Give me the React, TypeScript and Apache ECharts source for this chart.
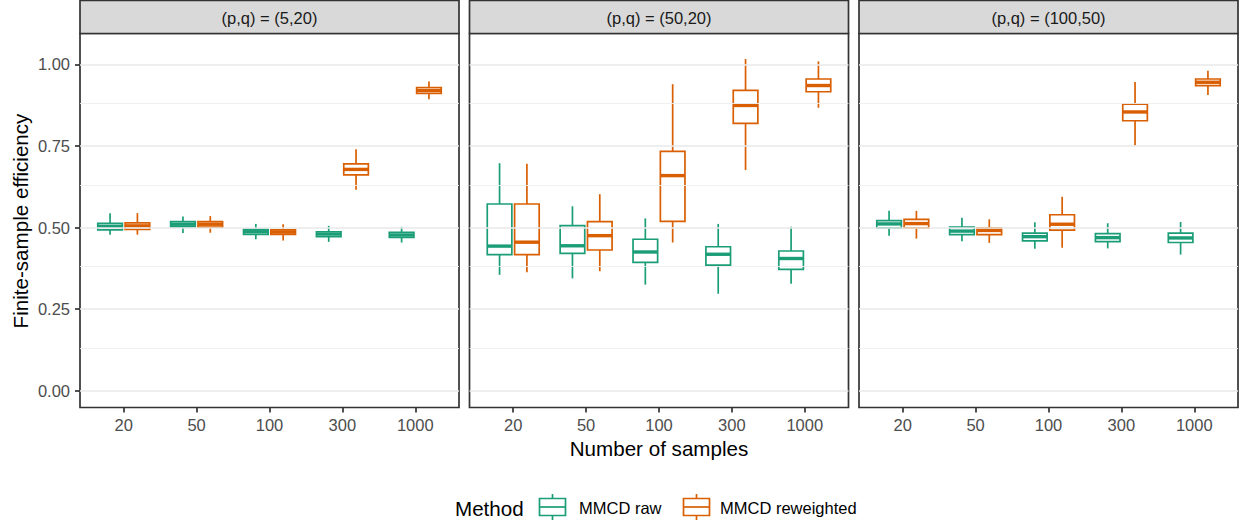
import React, { useEffect, useRef } from 'react';
import * as echarts from 'echarts';

const sampleSizes = ['20', '50', '100', '300', '1000'];
const panelTitles = ['(p,q) = (5,20)', '(p,q) = (50,20)', '(p,q) = (100,50)'];
const methods = ['MMCD raw', 'MMCD reweighted'];
const yTicks = [0, 0.25, 0.5, 0.75, 1];
const yMinorGrid = [0.125, 0.375, 0.625, 0.875];

// each entry: [lower whisker, Q1, median, Q3, upper whisker]
const p5q20Raw = [[0.478, 0.493, 0.504, 0.513, 0.544], [0.483, 0.502, 0.510, 0.518, 0.534], [0.464, 0.479, 0.487, 0.494, 0.511], [0.456, 0.472, 0.480, 0.487, 0.505], [0.454, 0.470, 0.477, 0.485, 0.502]];
const p5q20Rew = [[0.478, 0.494, 0.505, 0.514, 0.544], [0.484, 0.501, 0.510, 0.518, 0.535], [0.460, 0.479, 0.486, 0.493, 0.510], [0.616, 0.661, 0.678, 0.695, 0.740], [0.893, 0.911, 0.920, 0.929, 0.947]];
const p50q20Raw = [[0.355, 0.417, 0.443, 0.572, 0.697], [0.344, 0.421, 0.444, 0.506, 0.565], [0.325, 0.393, 0.425, 0.464, 0.528], [0.297, 0.385, 0.418, 0.441, 0.511], [0.328, 0.372, 0.405, 0.428, 0.502]];
const p50q20Rew = [[0.363, 0.417, 0.455, 0.572, 0.695], [0.366, 0.431, 0.475, 0.518, 0.602], [0.454, 0.519, 0.659, 0.733, 0.939], [0.676, 0.819, 0.874, 0.920, 1.016], [0.867, 0.916, 0.935, 0.955, 1.009]];
const p100q50Raw = [[0.475, 0.499, 0.511, 0.521, 0.551], [0.458, 0.478, 0.489, 0.501, 0.530], [0.435, 0.459, 0.472, 0.483, 0.516], [0.436, 0.457, 0.469, 0.481, 0.513], [0.417, 0.454, 0.468, 0.483, 0.517]];
const p100q50Rew = [[0.466, 0.499, 0.512, 0.525, 0.551], [0.453, 0.478, 0.491, 0.499, 0.525], [0.438, 0.492, 0.510, 0.539, 0.594], [0.751, 0.827, 0.854, 0.878, 0.946], [0.906, 0.935, 0.945, 0.955, 0.980]];

const panelData = [
  [p5q20Raw, p5q20Rew],
  [p50q20Raw, p50q20Rew],
  [p100q50Raw, p100q50Rew],
];

const COLORS = ['#1B9E77', '#D95F02'];
const FONT = '"Liberation Sans", Arial, Helvetica, sans-serif';
const PANEL_LEFT = [80, 469.5, 859];
const PANEL_WIDTH = 379;
const PANEL_TOP = 33.5;
const PANEL_HEIGHT = 374;
const Y_MIN = -0.0515;
const Y_MAX = 1.0944;
const DODGE = 0.1875;
const BOX_W = 0.3375;
const LW = 1.7;

function buildOption() {
  const grid: any[] = [];
  const xAxis: any[] = [];
  const yAxis: any[] = [];
  const series: any[] = [];
  const graphic: any[] = [];

  panelTitles.forEach((title, p) => {
    grid.push({
      left: PANEL_LEFT[p], top: PANEL_TOP, width: PANEL_WIDTH, height: PANEL_HEIGHT,
      show: true, borderColor: '#333333', borderWidth: LW, backgroundColor: '#FFFFFF',
    });
    xAxis.push({
      type: 'value', gridIndex: p, min: 0.4, max: 5.6, position: 'bottom',
      axisLine: { show: false, onZero: false },
      splitLine: { show: false },
      axisTick: { show: true, customValues: [1, 2, 3, 4, 5], length: 5, lineStyle: { color: '#333333', width: LW } },
      axisLabel: {
        show: true, customValues: [1, 2, 3, 4, 5], margin: 9,
        formatter: (v: number) => sampleSizes[Math.round(v) - 1] ?? '',
        color: '#4D4D4D', fontSize: 16.5, fontFamily: FONT,
      },
    });
    yAxis.push({
      type: 'value', gridIndex: p, min: Y_MIN, max: Y_MAX, position: 'left',
      axisLine: { show: false, onZero: false },
      splitLine: { show: false },
      axisTick: { show: p === 0, customValues: yTicks, length: 5, lineStyle: { color: '#333333', width: LW } },
      axisLabel: {
        show: p === 0, customValues: yTicks, margin: 10,
        formatter: (v: number) => v.toFixed(2),
        color: '#4D4D4D', fontSize: 16.5, fontFamily: FONT,
      },
    });
    // grid lines
    series.push({
      type: 'line', xAxisIndex: p, yAxisIndex: p, data: [], z: 1, silent: true,
      markLine: {
        silent: true, symbol: ['none', 'none'], animation: false,
        label: { show: false },
        emphasis: { disabled: true },
        data: [
          ...yMinorGrid.map((v) => ({ yAxis: v, lineStyle: { color: '#EEEEEE', width: 0.9, type: 'solid' } })),
          ...yTicks.map((v) => ({ yAxis: v, lineStyle: { color: '#E8E8E8', width: 1.7, type: 'solid' } })),
        ],
      },
    });
    panelData[p].forEach((rows, m) => {
      const off = m === 0 ? -DODGE : DODGE;
      const color = COLORS[m];
      series.push({
        type: 'custom', name: methods[m], xAxisIndex: p, yAxisIndex: p, z: 3,
        encode: { x: 0, y: [1, 2, 3, 4, 5] },
        data: rows.map((r, i) => [i + 1 + off, ...r]),
        renderItem: (params: any, api: any) => {
          const x = api.value(0);
          const lo = api.coord([x, api.value(1)]);
          const q1 = api.coord([x, api.value(2)]);
          const med = api.coord([x, api.value(3)]);
          const q3 = api.coord([x, api.value(4)]);
          const hi = api.coord([x, api.value(5)]);
          const hw = api.size([BOX_W, 0])[0] / 2;
          const cx = lo[0];
          return {
            type: 'group',
            children: [
              { type: 'line', shape: { x1: cx, y1: hi[1], x2: cx, y2: q3[1] }, style: { stroke: color, lineWidth: LW } },
              { type: 'line', shape: { x1: cx, y1: q1[1], x2: cx, y2: lo[1] }, style: { stroke: color, lineWidth: LW } },
              { type: 'rect', shape: { x: cx - hw, y: q3[1], width: hw * 2, height: q1[1] - q3[1] }, style: { fill: '#FFFFFF', stroke: color, lineWidth: LW } },
              { type: 'line', shape: { x1: cx - hw, y1: med[1], x2: cx + hw, y2: med[1] }, style: { stroke: color, lineWidth: LW * 2 } },
            ],
          };
        },
      });
    });
    // strip
    graphic.push({
      type: 'rect', z: 10,
      shape: { x: PANEL_LEFT[p], y: 0.5, width: PANEL_WIDTH, height: PANEL_TOP - 0.5 },
      style: { fill: '#D9D9D9', stroke: '#333333', lineWidth: LW },
    });
    graphic.push({
      type: 'text', z: 11,
      x: PANEL_LEFT[p] + PANEL_WIDTH / 2, y: 17.5,
      style: { text: title, fill: '#1A1A1A', font: `16.5px ${FONT}`, textAlign: 'center', textVerticalAlign: 'middle' },
    });
  });

  // axis titles
  graphic.push({
    type: 'text', x: 20, y: 221, rotation: Math.PI / 2,
    style: { text: 'Finite-sample efficiency', fill: '#000000', font: `20.6px ${FONT}`, textAlign: 'center', textVerticalAlign: 'middle' },
  });
  graphic.push({
    type: 'text', x: 659, y: 448,
    style: { text: 'Number of samples', fill: '#000000', font: `20.6px ${FONT}`, textAlign: 'center', textVerticalAlign: 'middle' },
  });

  // legend
  graphic.push({
    type: 'text', x: 455, y: 508,
    style: { text: 'Method', fill: '#000000', font: `20.6px ${FONT}`, textAlign: 'left', textVerticalAlign: 'middle' },
  });
  const keyX = [539.5, 683.5];
  const labelX = [579, 720];
  methods.forEach((name, m) => {
    const c = COLORS[m];
    const kx = keyX[m];
    const cx = kx + 13;
    graphic.push({ type: 'line', shape: { x1: cx, y1: 494, x2: cx, y2: 498.5 }, style: { stroke: c, lineWidth: LW } });
    graphic.push({ type: 'line', shape: { x1: cx, y1: 515.5, x2: cx, y2: 520 }, style: { stroke: c, lineWidth: LW } });
    graphic.push({ type: 'rect', shape: { x: kx, y: 498.5, width: 26, height: 17 }, style: { fill: '#FFFFFF', stroke: c, lineWidth: LW } });
    graphic.push({ type: 'line', shape: { x1: kx, y1: 507, x2: kx + 26, y2: 507 }, style: { stroke: c, lineWidth: LW } });
    graphic.push({
      type: 'text', x: labelX[m], y: 508,
      style: { text: name, fill: '#000000', font: `16.5px ${FONT}`, textAlign: 'left', textVerticalAlign: 'middle' },
    });
  });

  return {
    animation: false,
    backgroundColor: '#FFFFFF',
    textStyle: { fontFamily: FONT },
    grid, xAxis, yAxis, series, graphic,
  };
}

export default function App() {
  const ref = useRef<HTMLDivElement>(null);
  useEffect(() => {
    if (!ref.current) return;
    const chart = echarts.init(ref.current, undefined, { renderer: 'svg' });
    chart.setOption(buildOption() as any);
    return () => chart.dispose();
  }, []);
  return <div ref={ref} style={{ position: 'fixed', left: 0, top: 0, width: 1242, height: 523 }} />;
}
